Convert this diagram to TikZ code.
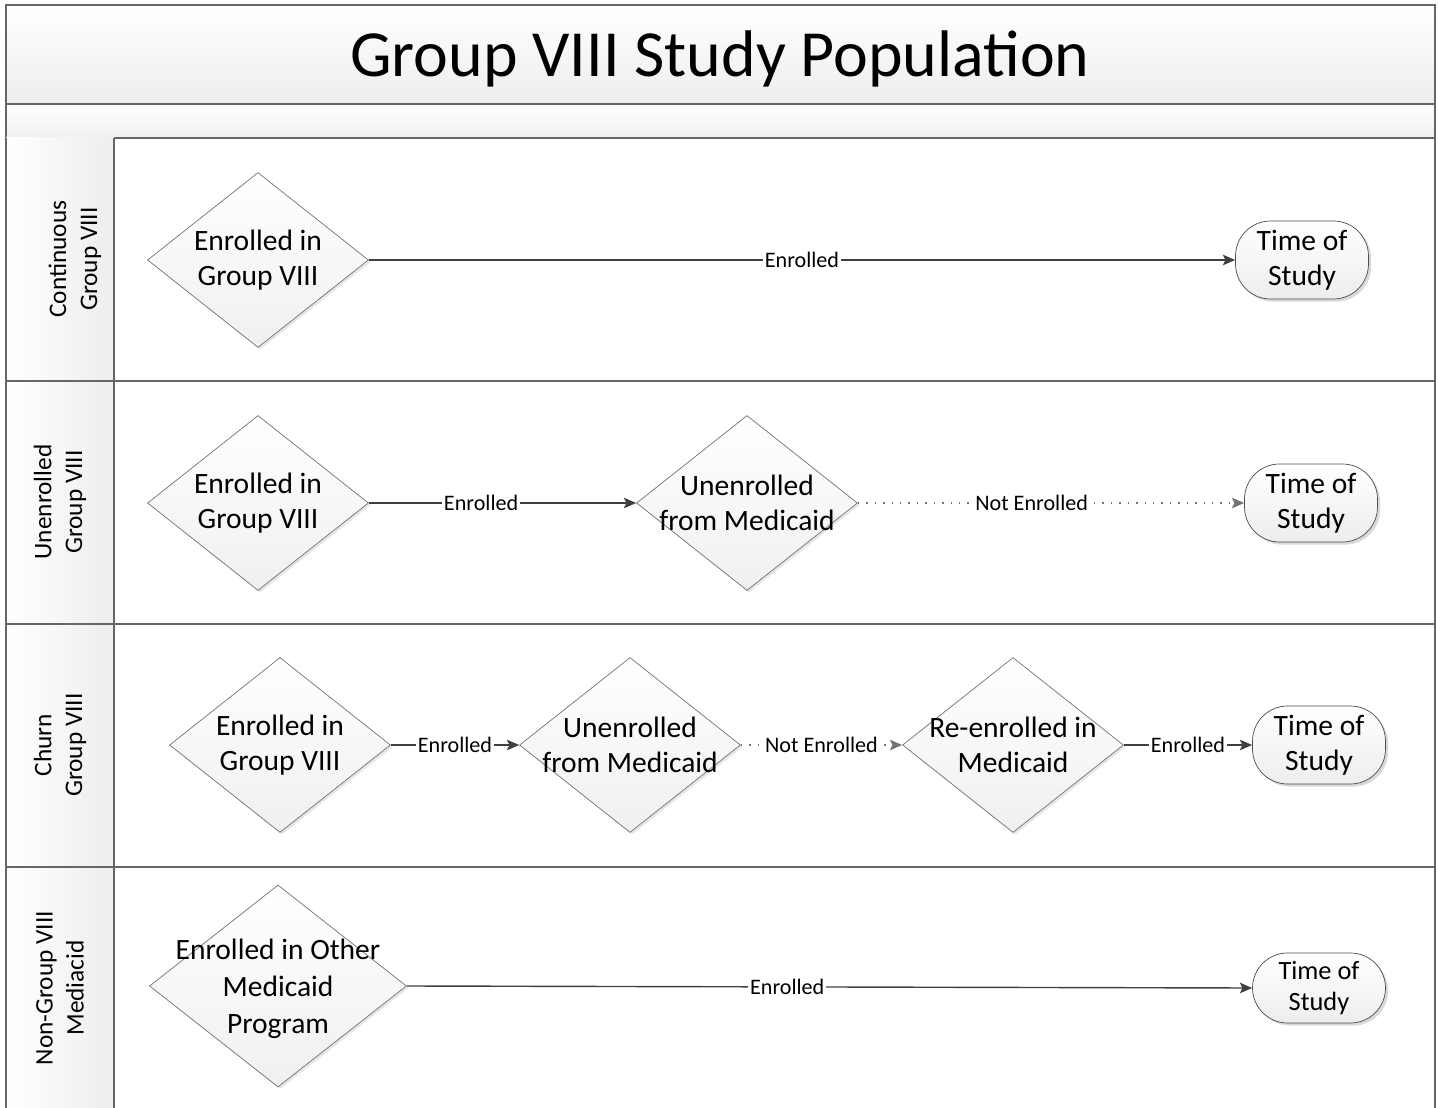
\documentclass[tikz,border=0pt]{standalone}
\usepackage{fontspec}
\setmainfont{Carlito}
\usetikzlibrary{shapes.geometric,shadows,arrows.meta}

\begin{document}
\begin{tikzpicture}[x=0.02cm, y=-0.02cm,
            frame/.style={draw=black!60, line width=1pt},
            heading/.style={font=\fontsize{37.5}{45}\selectfont},
            lanelabel/.style={rotate=90, align=center, font=\fontsize{14.4}{17.6}\selectfont},
            decision/.style={diamond, draw=black!55, top color=white, bottom color=black!6,
                minimum width=4.42cm, minimum height=3.5cm, inner sep=-1.2cm, align=center,
                font=\fontsize{16.8}{20}\selectfont,
                drop shadow={shadow xshift=1.2pt, shadow yshift=-1.2pt, opacity=0.2}},
            terminal/.style={rectangle, rounded corners=0.7cm, draw=black!70, top color=white,
                bottom color=black!7, minimum width=2.66cm, minimum height=1.56cm, inner sep=0pt,
                align=center, font=\fontsize{16.8}{20}\selectfont,
                drop shadow={shadow xshift=1.5pt, shadow yshift=-1.5pt, opacity=0.3}},
            flow/.style={draw=black!75, line width=0.8pt, -{Stealth[length=7pt, width=6pt, inset=1.5pt]}},
            noflow/.style={flow, draw=black!55, dash pattern=on 0.8pt off 4pt},
            flowlabel/.style={fill=white, inner sep=1pt, font=\fontsize{12.6}{15}\selectfont, text=black}]
            \useasboundingbox (0,0) rectangle (1438,1108);
            % Title bar and band
            \draw[frame, top color=white, bottom color=black!7] (6,5) rectangle (1435,104);
            \node[heading] (title) at (720,59) {Group VIII Study Population};
            \draw[frame, top color=white, bottom color=black!6] (6,104) rectangle (1435,138);
            % Lane header column
            \shade[left color=white, right color=black!7] (6,138) rectangle (114,1108);
            % Lane borders
            \draw[frame] (6,138) -- (6,1108) (114,138) -- (114,1108) (1435,138) -- (1435,1108);
            \foreach \ly in {381,624,867} {
                \draw[frame] (6,\ly) -- (1435,\ly);
            }
            % Lane names
            \node[lanelabel] (lane1) at (75,259) {Continuous\\Group VIII};
            \node[lanelabel] (lane2) at (60,502) {Unenrolled\\Group VIII};
            \node[lanelabel] (lane3) at (60,745) {Churn\\Group VIII};
            \node[lanelabel] (lane4) at (60,988) {Non-Group VIII\\Mediacid};
            % Continuous lane
            \node[decision] (c1) at (258,260) {Enrolled in\\Group VIII};
            \node[terminal] (c2) at (1302,260) {Time of\\Study};
            \draw[flow] (c1.east) -- node[flowlabel] {Enrolled} (c2.west);
            % Unenrolled lane
            \node[decision] (u1) at (258,503) {Enrolled in\\Group VIII};
            \node[decision] (u2) at (747,503) {Unenrolled\\from Medicaid};
            \node[terminal] (u3) at (1311,503) {Time of\\Study};
            \draw[flow] (u1.east) -- node[flowlabel, pos=0.42] {Enrolled} (u2.west);
            \draw[noflow] (u2.east) -- node[flowlabel, pos=0.45] {Not Enrolled} (u3.west);
            % Churn lane
            \node[decision] (h1) at (280,745) {Enrolled in\\Group VIII};
            \node[decision] (h2) at (630,745) {Unenrolled\\from Medicaid};
            \node[decision] (h3) at (1013,745) {Re-enrolled in\\Medicaid};
            \node[terminal] (h4) at (1319,745) {Time of\\Study};
            \draw[flow] (h1.east) -- node[flowlabel] {Enrolled} (h2.west);
            \draw[noflow] (h2.east) -- node[flowlabel] {Not Enrolled} (h3.west);
            \draw[flow] (h3.east) -- node[flowlabel] {Enrolled} (h4.west);
            % Non-Group VIII lane
            \node[decision, minimum width=5.14cm, minimum height=4.04cm, text depth=0pt,
                font=\fontsize{16.8}{21}\selectfont] (n1) at (278,986) {Enrolled in Other\\Medicaid\\Program};
            \node[terminal, minimum height=1.4cm, font=\fontsize{15}{17.5}\selectfont] (n2) at (1319,988) {Time of\\Study};
            \draw[flow] (n1.east) -- node[flowlabel, pos=0.45] {Enrolled} (n2.west);
        \end{tikzpicture}
\end{document}
